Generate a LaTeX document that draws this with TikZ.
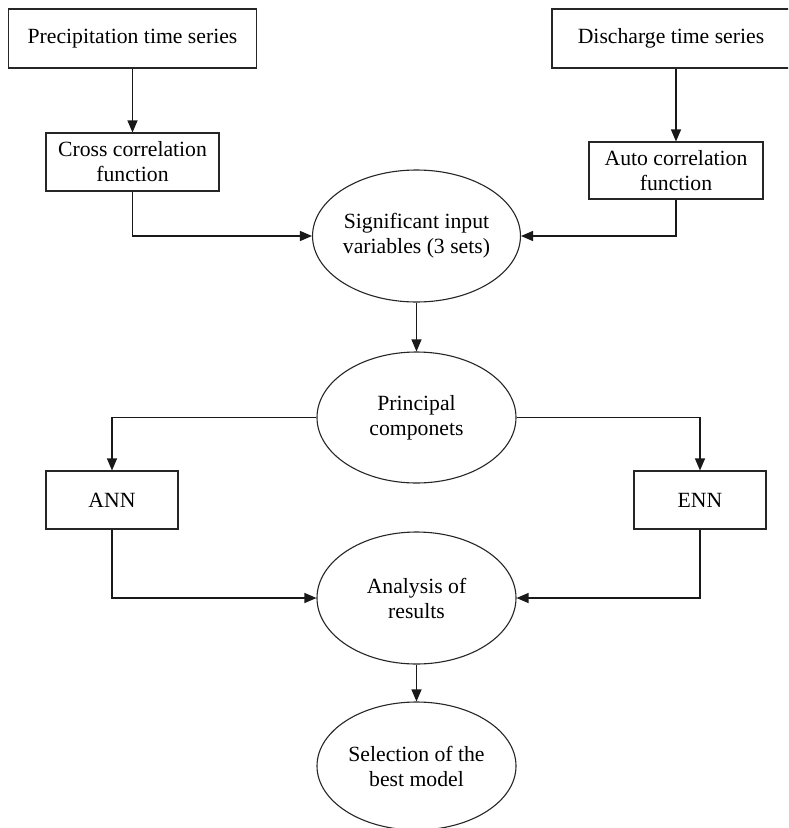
\documentclass[tikz,border=0pt]{standalone}
\usepackage{fontspec}
\setmainfont{Liberation Serif}
\usetikzlibrary{shapes.geometric,arrows.meta}
\begin{document}
\begin{tikzpicture}[x=1pt,y=-1pt,
  every node/.style={font=\fontsize{21.7}{25}\selectfont, align=center, inner sep=0pt},
  box/.style={draw=black!85, line width=1.1pt, rectangle},
  oval/.style={draw=black!85, line width=1.1pt, ellipse, minimum width=199pt, minimum height=132pt},
  arr/.style={draw=black!90, line width=1.2pt, -{Triangle[length=12pt,width=10pt]}}]
\useasboundingbox (0,0) rectangle (788,828);
\fill[white] (0,0) rectangle (788,828);
\clip (0,0) rectangle (788,828);
\node[box, minimum width=248pt, minimum height=59pt] (prec) at (132.5,38.5) {Precipitation time series};
\node[box, minimum width=238pt, minimum height=59pt] (disc) at (671,38.5) {Discharge time series};
\node[box, minimum width=173pt, minimum height=58pt] (cross) at (132.5,162) {Cross correlation\\function};
\node[box, minimum width=174pt, minimum height=57pt] (auto) at (676,170.5) {Auto correlation\\function};
\node[oval] (sig) at (416.5,236) {Significant input\\variables (3 sets)};
\node[oval, minimum height=131pt] (pc) at (416.5,417.5) {Principal\\componets};
\node[box, minimum width=132pt, minimum height=58pt] (ann) at (112,500) {ANN};
\node[box, minimum width=132pt, minimum height=58pt] (enn) at (700,500) {ENN};
\node[oval] (an) at (416.5,598) {Analysis of\\results};
\node[oval, minimum height=128pt] (sel) at (416.5,766) {Selection of the\\best model};
\draw[arr] (prec.south) -- (cross.north);
\draw[arr] (disc.south -| auto.north) -- (auto.north);
\draw[arr] (cross.south) |- (sig.west);
\draw[arr] (auto.south) |- (sig.east);
\draw[arr] (sig.south) -- (pc.north);
\draw[arr] (pc.west) -| (ann.north);
\draw[arr] (pc.east) -| (enn.north);
\draw[arr] (ann.south) |- (an.west);
\draw[arr] (enn.south) |- (an.east);
\draw[arr] (an.south) -- (sel.north);
\end{tikzpicture}
\end{document}
